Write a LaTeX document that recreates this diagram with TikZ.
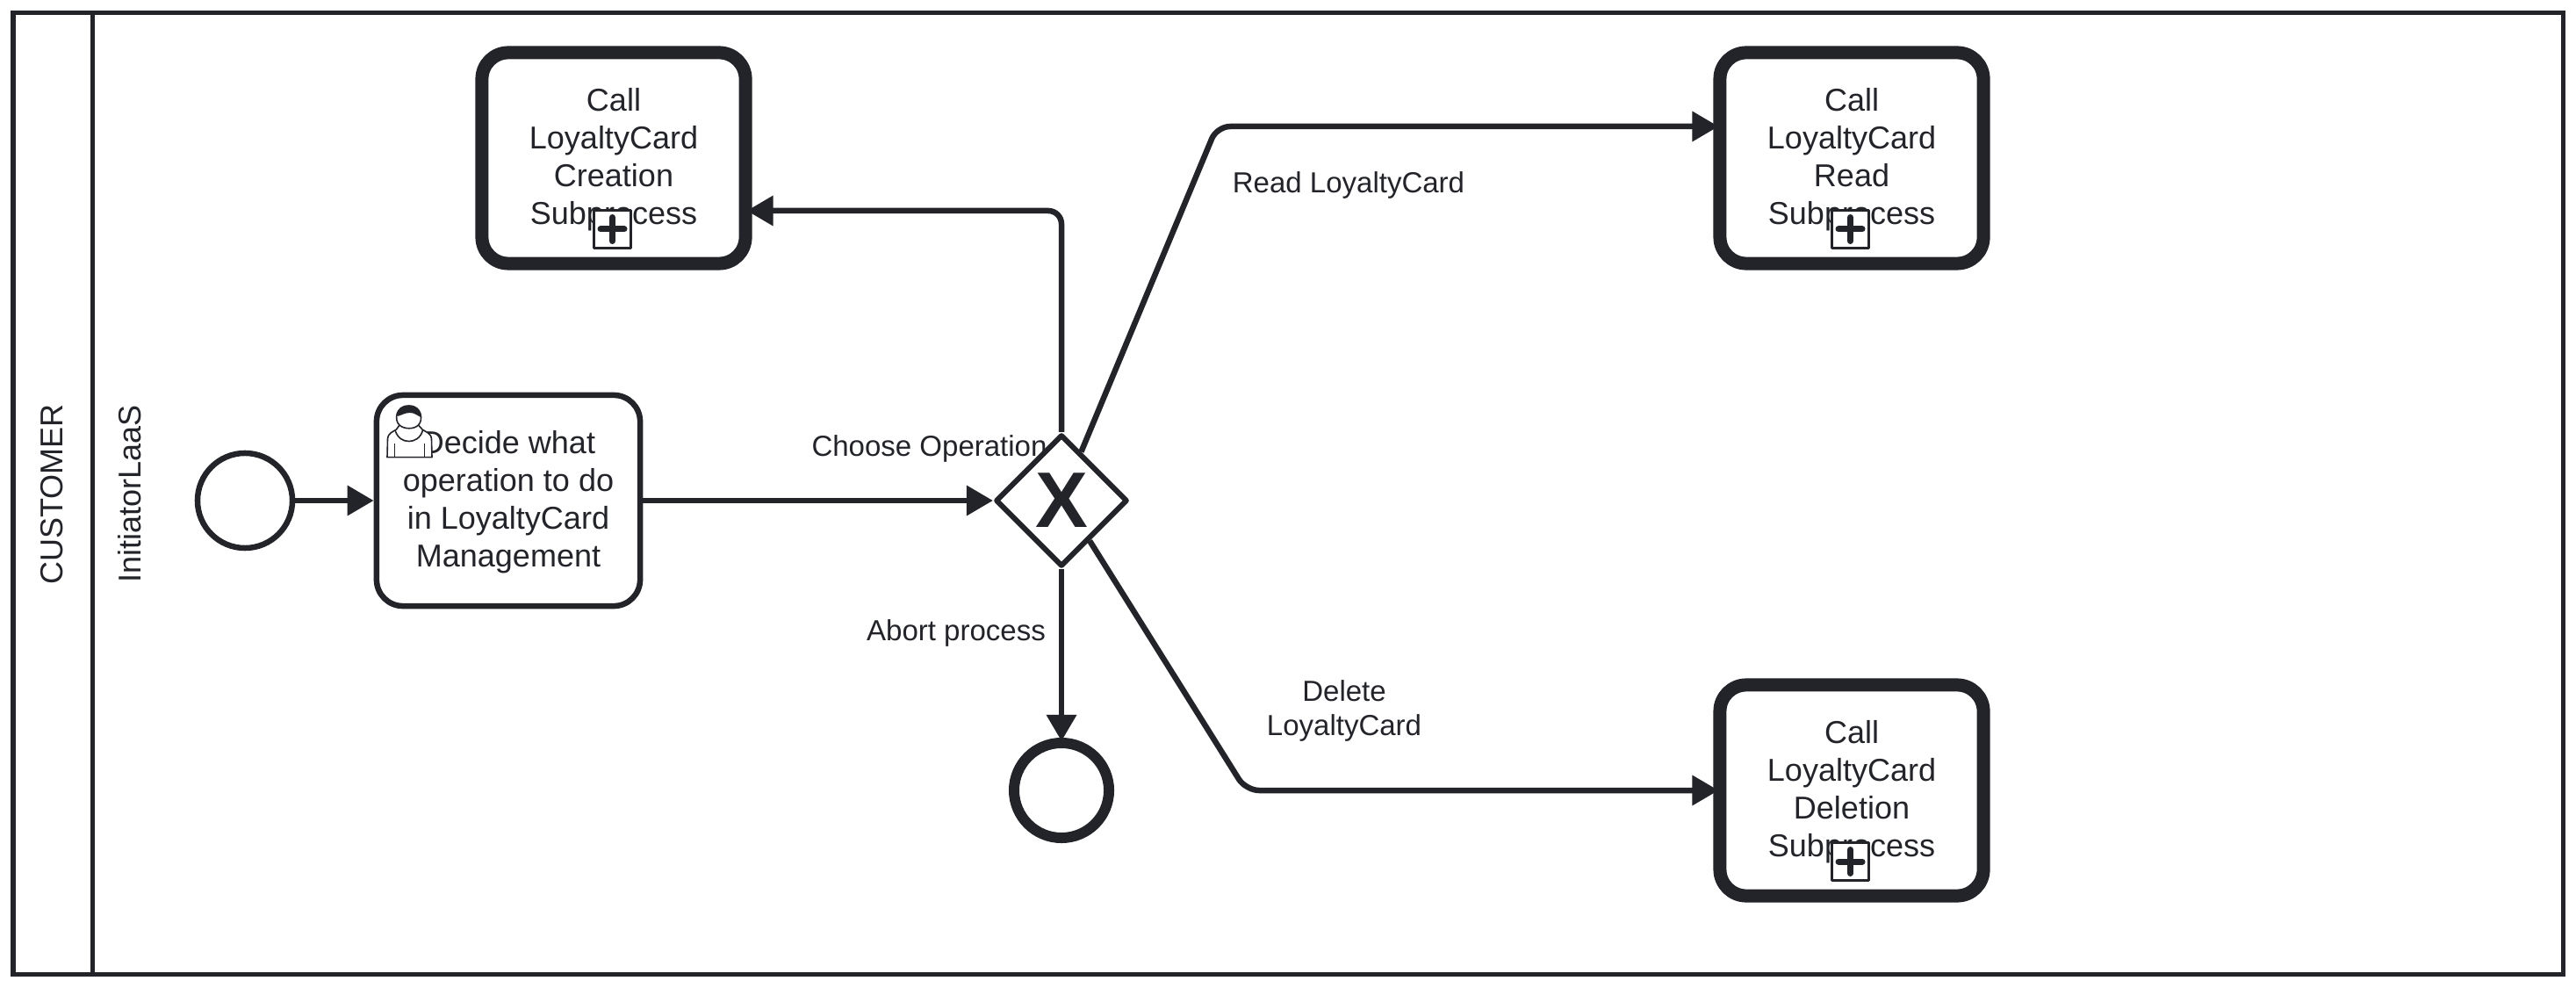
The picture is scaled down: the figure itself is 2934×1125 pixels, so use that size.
\documentclass[tikz,border=0pt]{standalone}
\usepackage{fontspec}
\setmainfont{Liberation Sans}
\usetikzlibrary{arrows.meta,calc,shapes.geometric}
\definecolor{bpmnink}{HTML}{22242A}
\tikzset{
  bigfont/.style={font=\fontsize{10.24}{12.23}\selectfont},
  smallfont/.style={font=\fontsize{9.39}{11.1}\selectfont},
  flow/.style={draw=bpmnink,line width=0.065cm,rounded corners=0.15cm,-{Triangle[length=0.3cm,width=0.33cm]}},
  taskbox/.style={draw=bpmnink,fill=white,line width=0.065cm,rounded corners=0.3cm,minimum width=3cm,minimum height=2.4cm,inner sep=0pt},
  callbox/.style={taskbox,line width=0.15cm},
  boxtext/.style={text=bpmnink,inner sep=0pt,align=center,bigfont},
  startev/.style={circle,draw=bpmnink,fill=white,line width=0.065cm,minimum size=1.08cm,inner sep=0pt},
  endev/.style={startev,line width=0.12cm},
  gateway/.style={diamond,draw=bpmnink,fill=white,text=bpmnink,line width=0.06cm,minimum width=1.5cm,minimum height=1.5cm,inner sep=0pt,font=\fontsize{25.5}{25.5}\selectfont\bfseries},
  flowlabel/.style={text=bpmnink,inner sep=0pt,align=center,smallfont},
  lanelabel/.style={text=bpmnink,inner sep=0pt,rotate=90,anchor=base,bigfont},
  plusbox/.style={draw=bpmnink,fill=white,line width=0.03cm,minimum size=0.42cm,inner sep=0pt},
  pluscross/.style={draw=bpmnink,line width=0.07cm,line cap=round},
  usericon/.style={draw=bpmnink,fill=white,line width=0.016cm,line join=round}
}
\begin{document}
\begin{tikzpicture}[x=0.01cm,y=-0.01cm,line join=round]
\useasboundingbox[fill=white] (0,0) rectangle (2934,1125);
\coordinate (poolTL) at (15,15);
\coordinate (poolBR) at (2919,1109.5);
\coordinate (laneT)  at (105,15);
\coordinate (laneB)  at (105,1109.5);
\draw[bpmnink,line width=0.05cm,line join=miter] (poolTL) rectangle (poolBR) (laneT)--(laneB);
\node[lanelabel] (pool) at (71.7,563) {CUSTOMER};
\node[lanelabel] (lane) at (160,562.5) {InitiatorLaaS};

\node[startev] (startEv)  at (279,570) {};
\node[taskbox] (decide)   at (579,570) {};
\node[gateway] (gw)       at (1209,570) {X};
\node[endev]   (endEv)    at (1209,900) {};
\node[callbox] (creation) at (699,180) {};
\node[callbox] (read)     at (2109,180) {};
\node[callbox] (deletion) at (2109,900) {};

\node[boxtext] (decideText)   at ($(decide)+(0,2)$)   {Decide what\\operation to do\\in LoyaltyCard\\Management};
\node[boxtext] (creationText) at ($(creation)+(0,2)$) {Call\\LoyaltyCard\\Creation\\Subprocess};
\node[boxtext] (readText)     at ($(read)+(0,2)$)     {Call\\LoyaltyCard\\Read\\Subprocess};
\node[boxtext] (deletionText) at ($(deletion)+(0,2)$) {Call\\LoyaltyCard\\Deletion\\Subprocess};

\foreach \n in {creation,read,deletion} {
  \node[plusbox] (\n Plus) at ($(\n)+(-1.5,81)$) {};
  \draw[pluscross] ($(\n Plus)+(-13.5,0)$)--($(\n Plus)+(13.5,0)$) ($(\n Plus)+(0,-13.5)$)--($(\n Plus)+(0,13.5)$);
}

\coordinate (readBend)   at (1386,144);
\coordinate (deleteBend) at (1419,900);
\draw[flow] (startEv)--(decide);
\draw[flow] (decide)--(gw);
\draw[flow,shorten >=-0.06cm] (gw.north) |- ($(creation.east)+(0,60)$);
\draw[flow,shorten >=-0.06cm] (gw.68.6)--(readBend)--($(read.west)+(0,-36)$);
\draw[flow,shorten >=-0.06cm] (gw.-55)--(deleteBend)--(deletion.west);
\draw[flow,shorten >=-0.04cm] (gw.south)--(endEv.north);

\node[flowlabel,anchor=base] (chooseLbl) at (1058.5,520) {Choose Operation};
\node[flowlabel,anchor=base] (abortLbl)  at (1089,729) {Abort process};
\node[flowlabel,anchor=base] (readLbl)   at (1536,220) {Read LoyaltyCard};
\node[flowlabel]             (deleteLbl) at (1531,809.5) {Delete\\LoyaltyCard};

\draw[usericon] (455,484)--(451.5,489) .. controls (447,492) and (442,493) .. (441.5,500)--(441,520.7)--(492,520.7)--(491.5,500) .. controls (491,493) and (485,492) .. (481,489)--(476.5,484)--cycle;
\draw[usericon] (455,484) .. controls (449,479) and (450,462) .. (465.7,462) .. controls (481,462) and (482,479) .. (476.5,484) .. controls (472,489) and (460,489) .. (455,484)--cycle;
\fill[bpmnink] (452.6,474) .. controls (452,466) and (458,462) .. (465.7,462) .. controls (474,462) and (479.5,466) .. (479.3,475) .. controls (475,473) and (472,470) .. (467,470) .. controls (461,470) and (457,473) .. (452.6,474)--cycle;
\draw[usericon,fill=none] (450,490) .. controls (453,499) and (459,502.5) .. (465.7,502.5) .. controls (472,502.5) and (479,499) .. (481.5,490);
\draw[usericon,fill=none] (449.3,505)--(449.3,520.7) (483.3,505)--(483.3,520.7);
\end{tikzpicture}
\end{document}
